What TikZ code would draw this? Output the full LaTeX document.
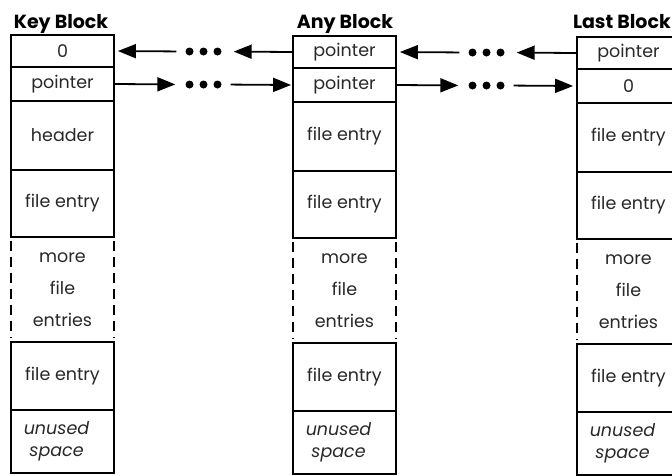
\documentclass[tikz,border=0pt]{standalone}
\usepackage{fontspec}
\setmainfont{Poppins}
\usetikzlibrary{arrows.meta,calc}
\definecolor{txt}{RGB}{40,40,40}
\newcommand{\cellfont}{\fontsize{17.5}{20}\selectfont}
\newcommand{\morefont}{\fontsize{17.5}{32}\selectfont}
\newcommand{\unusedfont}{\fontsize{17.5}{22}\selectfont\itshape}
\newcommand{\titlefont}{\fontsize{19}{22}\selectfont\bfseries}
\tikzset{
  cell/.style={draw, line width=1.8pt, minimum width=103pt, inner sep=0pt, font=\cellfont, text=txt},
  moretext/.style={minimum width=103pt, inner sep=0pt, font=\morefont, text=txt, align=center},
  unusedtext/.style={cell, font=\unusedfont, align=center},
  blocktitle/.style={font=\titlefont, inner sep=0pt},
  arr/.style={line width=1.8pt, -{Triangle[length=18pt,width=14pt]}},
  dotsnode/.style={minimum width=36pt, minimum height=8pt, inner sep=0pt},
  sidedash/.style={line width=1.8pt, dash pattern=on 10pt off 6pt},
}
\newcommand{\drawblock}[6]{%
  \node[cell, minimum height=32pt] (#1r1) at ({#2+51.5},{51+#3}) {#4};
  \node[cell, minimum height=34pt] (#1r2) at ({#2+51.5},{84+#3}) {#5};
  \node[cell, minimum height=69pt] (#1r3) at ({#2+51.5},{135.5+#3}) {#6};
  \node[cell, minimum height=67pt] (#1r4) at ({#2+51.5},{203.5+#3}) {file entry};
  \node[moretext, minimum height=105pt] (#1m) at ({#2+51.5},{289.5+#3}) {more\\file\\entries};
  \draw[sidedash] ([yshift=-4pt]#1m.north west) -- ([yshift=4pt]#1m.south west);
  \draw[sidedash] ([yshift=-4pt]#1m.north east) -- ([yshift=4pt]#1m.south east);
  \node[cell, minimum height=68pt] (#1r5) at ({#2+51.5},{376+#3}) {file entry};
  \node[unusedtext, minimum height=63pt] (#1r6) at ({#2+51.5},{441.5+#3}) {\hspace*{-12pt}unused\\\hspace*{-12pt}space};
}
\newcommand{\dotsat}[1]{%
  \foreach \o in {-14,0,14} \fill ([xshift=\o pt]#1.center) circle (4pt);
}
\begin{document}
\begin{tikzpicture}[x=1pt,y=-1pt]
  \useasboundingbox (0,0) rectangle (672,475);
  \clip (0,0) rectangle (672,475);
  \drawblock{k}{11}{0}{0}{pointer}{header}
  \drawblock{a}{293}{1}{pointer}{pointer}{file entry}
  \drawblock{l}{577}{2}{pointer}{0}{file entry}
  \node[blocktitle, anchor=base] (kt) at (61,28) {Key Block};
  \node[blocktitle, anchor=base] (at) at (345,28) {Any Block};
  \node[blocktitle, anchor=base east] (lt) at (671,28) {Last Block};
  % dots
  \node[dotsnode] (d1) at ($(kr1.east)!0.5!(ar1.west)$) {};
  \node[dotsnode] (d2) at ($(kr2.east)!0.5!(ar2.west)$) {};
  \node[dotsnode] (d3) at ($(ar1.east)!0.5!(lr1.west)$) {};
  \node[dotsnode] (d4) at ($(ar2.east)!0.5!(lr2.west)$) {};
  \dotsat{d1}\dotsat{d2}\dotsat{d3}\dotsat{d4}
  % arrows
  \draw[arr, shorten >=12pt] (ar1.west) -- (d1.east);
  \draw[arr, shorten <=9pt, shorten >=3pt] (d1.west) -- (kr1.east);
  \draw[arr, shorten >=10pt] (kr2.east) -- (d2.west);
  \draw[arr, shorten <=9pt, shorten >=1pt] (d2.east) -- (ar2.west);
  \draw[arr, shorten >=12pt] (lr1.west) -- (d3.east);
  \draw[arr, shorten <=9pt, shorten >=3pt] (d3.west) -- (ar1.east);
  \draw[arr, shorten >=10pt] (ar2.east) -- (d4.west);
  \draw[arr, shorten <=9pt, shorten >=3pt] (d4.east) -- (lr2.west);
\end{tikzpicture}
\end{document}
